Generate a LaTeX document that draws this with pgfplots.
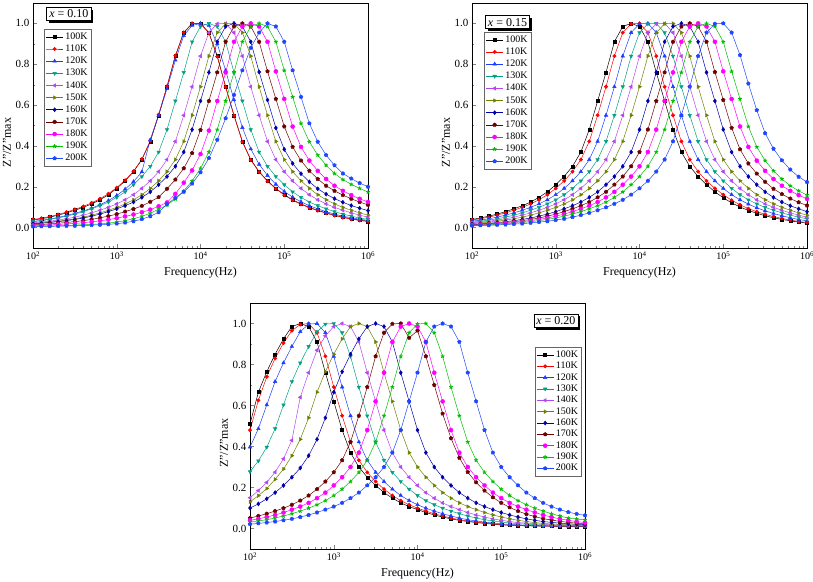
\documentclass[border=0pt]{standalone}
\usepackage{fontspec}
\setmainfont{Liberation Serif}
\usepackage{pgfplots}
\pgfplotsset{compat=1.18}
\usepackage{pgfplotstable}

\definecolor{c100}{RGB}{0,0,0}
\definecolor{c110}{RGB}{255,0,0}
\definecolor{c120}{RGB}{30,60,255}
\definecolor{c130}{RGB}{0,160,130}
\definecolor{c140}{RGB}{180,70,240}
\definecolor{c150}{RGB}{110,130,0}
\definecolor{c160}{RGB}{0,0,170}
\definecolor{c170}{RGB}{110,0,0}
\definecolor{c180}{RGB}{255,0,255}
\definecolor{c190}{RGB}{0,190,0}
\definecolor{c200}{RGB}{30,70,255}

\pgfplotstableread{
f t100 t110 t120 t130 t140 t150 t160 t170 t180 t190 t200
1.000e2 0.037 0.040 0.030 0.029 0.023 0.019 0.018 0.014 0.010 0.007 0.005
1.259e2 0.043 0.046 0.035 0.034 0.027 0.023 0.021 0.015 0.011 0.008 0.0055
1.585e2 0.051 0.054 0.042 0.040 0.031 0.027 0.025 0.018 0.013 0.0085 0.006
1.995e2 0.061 0.064 0.050 0.047 0.037 0.031 0.029 0.021 0.015 0.009 0.007
2.512e2 0.072 0.076 0.059 0.056 0.043 0.037 0.034 0.025 0.018 0.010 0.008
3.162e2 0.085 0.089 0.070 0.066 0.051 0.043 0.040 0.029 0.020 0.012 0.009
3.981e2 0.099 0.104 0.081 0.078 0.061 0.051 0.047 0.034 0.024 0.014 0.010
5.012e2 0.116 0.121 0.095 0.092 0.072 0.061 0.056 0.040 0.028 0.016 0.012
6.310e2 0.136 0.141 0.112 0.107 0.085 0.072 0.066 0.048 0.033 0.018 0.014
7.943e2 0.161 0.166 0.132 0.125 0.099 0.085 0.078 0.056 0.039 0.022 0.016
1.000e3 0.192 0.196 0.157 0.148 0.116 0.099 0.092 0.066 0.046 0.027 0.019
1.259e3 0.229 0.232 0.188 0.175 0.136 0.116 0.107 0.078 0.055 0.034 0.024
1.585e3 0.274 0.276 0.225 0.210 0.161 0.136 0.125 0.091 0.064 0.043 0.031
1.995e3 0.333 0.335 0.273 0.250 0.192 0.161 0.148 0.106 0.075 0.055 0.041
2.512e3 0.422 0.425 0.430 0.300 0.229 0.192 0.175 0.126 0.088 0.070 0.055
3.162e3 0.550 0.553 0.550 0.370 0.274 0.229 0.210 0.149 0.104 0.090 0.075
3.981e3 0.690 0.692 0.680 0.480 0.333 0.274 0.250 0.190 0.123 0.110 0.115
5.012e3 0.840 0.842 0.820 0.620 0.422 0.333 0.300 0.235 0.165 0.140 0.145
6.310e3 0.955 0.956 0.940 0.760 0.550 0.422 0.370 0.290 0.220 0.180 0.175
7.943e3 0.998 1.000 0.990 0.910 0.690 0.550 0.480 0.365 0.280 0.228 0.215
1.000e4 1.000 0.998 1.000 0.985 0.840 0.690 0.620 0.478 0.360 0.290 0.270
1.259e4 0.955 0.953 0.990 1.000 0.955 0.840 0.760 0.620 0.475 0.370 0.340
1.585e4 0.840 0.838 0.900 0.985 0.998 0.955 0.910 0.760 0.620 0.480 0.430
1.995e4 0.690 0.688 0.770 0.910 1.000 0.998 0.985 0.910 0.760 0.620 0.535
2.512e4 0.550 0.548 0.625 0.760 0.955 1.000 1.000 0.985 0.910 0.760 0.650
3.162e4 0.422 0.420 0.490 0.620 0.840 0.955 0.985 1.000 0.985 0.910 0.770
3.981e4 0.333 0.331 0.385 0.480 0.690 0.840 0.910 0.985 1.000 0.985 0.880
5.012e4 0.274 0.272 0.310 0.370 0.550 0.690 0.762 0.910 0.985 1.000 0.955
6.310e4 0.229 0.227 0.255 0.300 0.422 0.550 0.625 0.765 0.910 0.985 1.000
7.943e4 0.192 0.190 0.212 0.250 0.333 0.422 0.488 0.630 0.765 0.910 0.985
1.000e5 0.161 0.159 0.177 0.210 0.274 0.333 0.383 0.495 0.630 0.770 0.910
1.259e5 0.136 0.134 0.149 0.175 0.229 0.274 0.314 0.395 0.495 0.640 0.770
1.585e5 0.116 0.114 0.126 0.148 0.192 0.229 0.264 0.328 0.395 0.510 0.640
1.995e5 0.099 0.097 0.107 0.125 0.161 0.192 0.224 0.278 0.328 0.420 0.510
2.512e5 0.085 0.083 0.092 0.107 0.136 0.161 0.190 0.238 0.278 0.355 0.420
3.162e5 0.072 0.070 0.078 0.092 0.116 0.136 0.164 0.205 0.238 0.305 0.355
3.981e5 0.061 0.059 0.066 0.078 0.099 0.116 0.142 0.180 0.205 0.265 0.305
5.012e5 0.051 0.049 0.056 0.066 0.085 0.099 0.124 0.159 0.180 0.235 0.265
6.310e5 0.043 0.041 0.048 0.056 0.072 0.085 0.108 0.141 0.159 0.212 0.240
7.943e5 0.037 0.035 0.041 0.047 0.061 0.072 0.095 0.125 0.141 0.192 0.218
1.000e6 0.031 0.029 0.035 0.040 0.051 0.061 0.083 0.111 0.125 0.174 0.200
}\tabA

\pgfplotstableread{
f t100 t110 t120 t130 t140 t150 t160 t170 t180 t190 t200
1.000e2 0.040 0.037 0.031 0.027 0.023 0.019 0.016 0.014 0.012 0.011 0.0095
1.259e2 0.047 0.043 0.037 0.031 0.027 0.023 0.018 0.016 0.014 0.012 0.0105
1.585e2 0.056 0.051 0.043 0.037 0.031 0.027 0.021 0.018 0.016 0.014 0.0115
1.995e2 0.066 0.061 0.051 0.043 0.037 0.031 0.025 0.021 0.018 0.016 0.013
2.512e2 0.078 0.072 0.061 0.051 0.043 0.037 0.029 0.025 0.021 0.018 0.015
3.162e2 0.092 0.085 0.072 0.061 0.051 0.043 0.034 0.029 0.025 0.021 0.017
3.981e2 0.107 0.099 0.085 0.072 0.061 0.051 0.040 0.034 0.029 0.025 0.019
5.012e2 0.125 0.116 0.099 0.085 0.072 0.061 0.047 0.040 0.034 0.029 0.023
6.310e2 0.148 0.136 0.116 0.099 0.085 0.072 0.056 0.047 0.040 0.034 0.027
7.943e2 0.175 0.161 0.136 0.116 0.099 0.085 0.066 0.056 0.047 0.040 0.031
1.000e3 0.210 0.192 0.161 0.136 0.116 0.099 0.078 0.066 0.056 0.047 0.037
1.259e3 0.250 0.229 0.192 0.161 0.136 0.116 0.092 0.078 0.066 0.056 0.043
1.585e3 0.300 0.274 0.229 0.192 0.161 0.136 0.107 0.092 0.078 0.066 0.051
1.995e3 0.370 0.333 0.274 0.229 0.192 0.161 0.125 0.107 0.092 0.078 0.061
2.512e3 0.480 0.422 0.333 0.274 0.229 0.192 0.148 0.125 0.107 0.092 0.072
3.162e3 0.620 0.550 0.422 0.333 0.274 0.229 0.175 0.148 0.125 0.107 0.085
3.981e3 0.760 0.690 0.550 0.422 0.333 0.274 0.210 0.175 0.148 0.125 0.099
5.012e3 0.910 0.840 0.690 0.550 0.422 0.333 0.250 0.210 0.175 0.148 0.116
6.310e3 0.985 0.955 0.840 0.690 0.550 0.422 0.300 0.250 0.210 0.175 0.136
7.943e3 1.000 0.998 0.955 0.840 0.690 0.550 0.370 0.300 0.250 0.210 0.161
1.000e4 0.985 1.000 0.998 0.955 0.840 0.690 0.480 0.370 0.300 0.250 0.192
1.259e4 0.910 0.955 1.000 0.998 0.955 0.840 0.620 0.480 0.370 0.300 0.229
1.585e4 0.760 0.840 0.955 1.000 0.998 0.955 0.760 0.620 0.480 0.370 0.274
1.995e4 0.620 0.690 0.840 0.955 1.000 0.998 0.910 0.760 0.620 0.480 0.333
2.512e4 0.480 0.550 0.690 0.840 0.955 1.000 0.985 0.910 0.760 0.620 0.422
3.162e4 0.370 0.422 0.550 0.690 0.840 0.955 1.000 0.985 0.910 0.760 0.550
3.981e4 0.300 0.333 0.422 0.550 0.690 0.840 0.985 1.000 0.985 0.910 0.690
5.012e4 0.250 0.274 0.333 0.422 0.550 0.690 0.910 0.985 1.000 0.985 0.840
6.310e4 0.210 0.229 0.274 0.333 0.422 0.550 0.760 0.910 0.985 1.000 0.955
7.943e4 0.175 0.192 0.229 0.274 0.333 0.422 0.620 0.762 0.910 0.985 0.998
1.000e5 0.146 0.161 0.192 0.229 0.274 0.333 0.480 0.625 0.765 0.910 1.000
1.259e5 0.121 0.134 0.161 0.192 0.229 0.274 0.370 0.488 0.630 0.765 0.955
1.585e5 0.101 0.112 0.136 0.161 0.192 0.229 0.300 0.383 0.495 0.630 0.845
1.995e5 0.084 0.093 0.115 0.136 0.161 0.192 0.250 0.314 0.395 0.495 0.705
2.512e5 0.070 0.078 0.097 0.116 0.136 0.161 0.210 0.264 0.328 0.395 0.575
3.162e5 0.058 0.065 0.082 0.099 0.116 0.136 0.175 0.224 0.278 0.328 0.462
3.981e5 0.048 0.054 0.069 0.085 0.099 0.116 0.148 0.190 0.238 0.278 0.386
5.012e5 0.040 0.045 0.058 0.072 0.085 0.099 0.125 0.164 0.205 0.238 0.329
6.310e5 0.033 0.037 0.048 0.061 0.072 0.085 0.107 0.142 0.180 0.205 0.284
7.943e5 0.027 0.030 0.040 0.051 0.061 0.072 0.092 0.124 0.159 0.180 0.249
1.000e6 0.022 0.025 0.033 0.043 0.051 0.061 0.078 0.108 0.141 0.159 0.223
}\tabB

\pgfplotstableread{
f t100 t110 t120 t130 t140 t150 t160 t170 t180 t190 t200
1.000e2 0.510 0.480 0.397 0.277 0.150 0.130 0.100 0.051 0.040 0.031 0.021
1.259e2 0.665 0.625 0.487 0.330 0.185 0.160 0.120 0.061 0.047 0.037 0.025
1.585e2 0.765 0.740 0.603 0.397 0.225 0.195 0.145 0.072 0.056 0.043 0.029
1.995e2 0.850 0.830 0.717 0.487 0.275 0.240 0.175 0.085 0.066 0.051 0.034
2.512e2 0.925 0.905 0.808 0.603 0.340 0.290 0.210 0.099 0.078 0.061 0.040
3.162e2 0.985 0.965 0.888 0.717 0.430 0.355 0.250 0.116 0.092 0.072 0.047
3.981e2 1.000 0.995 0.960 0.808 0.640 0.435 0.295 0.136 0.107 0.085 0.056
5.012e2 0.985 1.000 0.997 0.888 0.760 0.540 0.355 0.161 0.125 0.099 0.066
6.310e2 0.910 0.955 1.000 0.960 0.870 0.665 0.435 0.192 0.148 0.116 0.078
7.943e2 0.760 0.840 0.955 0.997 0.940 0.765 0.540 0.229 0.175 0.136 0.092
1.000e3 0.620 0.690 0.840 1.000 0.985 0.850 0.665 0.274 0.210 0.161 0.107
1.259e3 0.480 0.550 0.690 0.955 1.000 0.925 0.765 0.333 0.250 0.192 0.125
1.585e3 0.370 0.422 0.550 0.840 0.985 0.985 0.850 0.422 0.300 0.229 0.148
1.995e3 0.300 0.333 0.422 0.690 0.910 1.000 0.925 0.550 0.370 0.274 0.175
2.512e3 0.250 0.274 0.333 0.550 0.760 0.985 0.985 0.690 0.480 0.333 0.210
3.162e3 0.210 0.229 0.274 0.422 0.620 0.910 1.000 0.840 0.620 0.422 0.250
3.981e3 0.175 0.192 0.229 0.333 0.480 0.760 0.985 0.955 0.760 0.550 0.300
5.012e3 0.148 0.161 0.192 0.274 0.370 0.620 0.910 0.998 0.910 0.690 0.370
6.310e3 0.125 0.136 0.161 0.229 0.300 0.480 0.760 1.000 0.985 0.840 0.480
7.943e3 0.107 0.116 0.136 0.192 0.250 0.370 0.620 0.930 1.000 0.955 0.620
1.000e4 0.092 0.099 0.116 0.161 0.210 0.300 0.480 0.965 0.985 0.998 0.760
1.259e4 0.078 0.085 0.099 0.136 0.175 0.250 0.370 0.840 0.910 1.000 0.910
1.585e4 0.066 0.072 0.085 0.116 0.148 0.210 0.300 0.700 0.760 0.955 0.985
1.995e4 0.056 0.061 0.072 0.099 0.125 0.175 0.250 0.560 0.620 0.840 1.000
2.512e4 0.047 0.051 0.061 0.085 0.107 0.148 0.210 0.440 0.480 0.690 0.985
3.162e4 0.040 0.043 0.051 0.072 0.092 0.125 0.175 0.345 0.370 0.550 0.910
3.981e4 0.034 0.037 0.043 0.061 0.078 0.107 0.148 0.275 0.300 0.422 0.760
5.012e4 0.029 0.031 0.037 0.051 0.066 0.092 0.125 0.225 0.250 0.333 0.620
6.310e4 0.025 0.027 0.031 0.043 0.056 0.078 0.107 0.185 0.210 0.274 0.480
7.943e4 0.021 0.023 0.027 0.037 0.047 0.066 0.092 0.152 0.175 0.229 0.370
1.000e5 0.018 0.019 0.023 0.031 0.040 0.056 0.078 0.125 0.148 0.192 0.300
1.259e5 0.016 0.017 0.020 0.027 0.034 0.047 0.066 0.103 0.125 0.161 0.250
1.585e5 0.014 0.015 0.018 0.024 0.029 0.040 0.056 0.085 0.107 0.136 0.210
1.995e5 0.013 0.014 0.016 0.021 0.026 0.034 0.047 0.070 0.092 0.116 0.175
2.512e5 0.012 0.013 0.015 0.019 0.023 0.029 0.040 0.058 0.078 0.099 0.148
3.162e5 0.011 0.012 0.014 0.017 0.021 0.025 0.034 0.048 0.066 0.085 0.125
3.981e5 0.011 0.012 0.013 0.016 0.019 0.022 0.030 0.041 0.056 0.072 0.107
5.012e5 0.010 0.011 0.013 0.015 0.017 0.020 0.026 0.035 0.047 0.061 0.092
6.310e5 0.010 0.011 0.012 0.014 0.016 0.018 0.023 0.030 0.040 0.051 0.080
7.943e5 0.010 0.011 0.012 0.013 0.015 0.017 0.021 0.026 0.034 0.046 0.071
1.000e6 0.009 0.010 0.012 0.013 0.014 0.016 0.019 0.022 0.029 0.042 0.064
}\tabC

\pgfplotsset{
  every axis/.append style={
    scale only axis, width=335pt, height=245pt,
    xmin=1e2, xmax=1e6, ymin=-0.1, ymax=1.1,
    xtick={1e2,1e3,1e4,1e5,1e6},
    xticklabels={10\textsuperscript{2},10\textsuperscript{3},10\textsuperscript{4},10\textsuperscript{5},10\textsuperscript{6}},
    ytick={0,0.2,0.4,0.6,0.8,1.0},
    yticklabels={0.0,0.2,0.4,0.6,0.8,1.0},
    minor y tick num=1,
    tick pos=left, tick align=inside,
    major tick length=4pt, minor tick length=2pt,
    axis line style={line width=0.9pt},
    xlabel={Frequency(Hz)}, ylabel={Z"/Z"max},
    xlabel style={font=\fontsize{12}{14}\selectfont, at={(axis description cs:0.5,-0.102)}, anchor=center},
    ylabel style={font=\fontsize{12}{14}\selectfont, at={(axis description cs:-0.078,0.43)}, anchor=center},
    xticklabel style={font=\fontsize{10}{12}\selectfont},
    yticklabel style={font=\fontsize{11}{12}\selectfont},
    legend cell align=left,
    legend style={font=\fontsize{10}{11}\selectfont, draw=black!60, line width=0.6pt, inner sep=1.5pt, row sep=0pt, fill=white},
  },
  every axis plot/.append style={line width=0.5pt, mark size=1.7pt},
}

\newcommand{\allplots}[1]{%
  \addplot[c100, mark=square*, mark size=1.5pt] table[x=f,y=t100]{#1};
  \addplot[c110, mark=*] table[x=f,y=t110]{#1};
  \addplot[c120, mark=triangle*, mark size=2pt] table[x=f,y=t120]{#1};
  \addplot[c130, mark=triangle*, mark size=2pt, mark options={rotate=180}] table[x=f,y=t130]{#1};
  \addplot[c140, mark=triangle*, mark size=2pt, mark options={rotate=90}] table[x=f,y=t140]{#1};
  \addplot[c150, mark=triangle*, mark size=2pt, mark options={rotate=-90}] table[x=f,y=t150]{#1};
  \addplot[c160, mark=diamond*, mark size=2pt] table[x=f,y=t160]{#1};
  \addplot[c170, mark=pentagon*, mark size=1.9pt] table[x=f,y=t170]{#1};
  \addplot[c180, mark=*, mark size=2pt] table[x=f,y=t180]{#1};
  \addplot[c190, mark=star, mark size=2pt, mark options={line width=0.9pt}] table[x=f,y=t190]{#1};
  \addplot[c200, mark=pentagon*, mark size=1.9pt] table[x=f,y=t200]{#1};
  \legend{100K,110K,120K,130K,140K,150K,160K,170K,180K,190K,200K}
}

\newcommand{\xbox}[2]{%
  \node[fill=black, inner sep=2.5pt, font=\fontsize{12}{14}\selectfont, xshift=2.5pt, yshift=-2.5pt] at (#1) {\phantom{\textit{x} = #2}};
  \node[draw, fill=white, line width=0.6pt, inner sep=2.5pt, font=\fontsize{12}{14}\selectfont] at (#1) {\textit{x} = #2};
}

\begin{document}
\begin{tikzpicture}
\useasboundingbox (0,0) rectangle (813pt,581pt);
\begin{semilogxaxis}[at={(33pt,333pt)}, anchor=south west,
  legend style={at={(0.033,0.894)}, anchor=north west}]
\allplots{\tabA}
\xbox{rel axis cs:0.107,0.955}{0.10}
\end{semilogxaxis}
\begin{semilogxaxis}[at={(472pt,333pt)}, anchor=south west,
  legend style={at={(0.036,0.882)}, anchor=north west}]
\allplots{\tabB}
\xbox{rel axis cs:0.106,0.922}{0.15}
\end{semilogxaxis}
\begin{semilogxaxis}[height=246pt, at={(250pt,32pt)}, anchor=south west,
  legend style={at={(0.991,0.821)}, anchor=north east, row sep=-0.8pt}]
\allplots{\tabC}
\xbox{rel axis cs:0.913,0.929}{0.20}
\end{semilogxaxis}
\end{tikzpicture}
\end{document}
